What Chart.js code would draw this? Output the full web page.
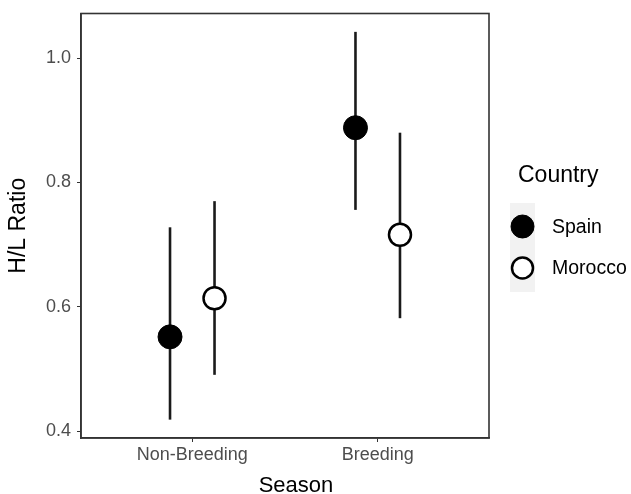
<!DOCTYPE html>
<html>
<head>
<meta charset="utf-8">
<script src="https://cdn.jsdelivr.net/npm/chart.js@4"></script>
<style>
  body { margin: 0; background: #fff; }
</style>
</head>
<body>
<canvas id="myChart" width="631" height="494"></canvas>
<script>
// data
const seasons = ["Non-Breeding", "Breeding"];
const countries = ["Spain", "Morocco"];
const spainMean = [0.552, 0.888];
const spainLow = [0.419, 0.756];
const spainHigh = [0.728, 1.042];
const moroccoMean = [0.614, 0.716];
const moroccoLow = [0.491, 0.582];
const moroccoHigh = [0.770, 0.880];
const yTicks = [0.4, 0.6, 0.8, 1.0];

const dodge = 0.12;
const FONT = "'Liberation Sans', Arial, sans-serif";

function points(means, off) {
  return means.map((m, i) => ({ x: i + 1 + off, y: m }));
}

// error bars + frame + legend + x title
const extras = {
  id: "extras",
  beforeDatasetsDraw(chart) {
    const ctx = chart.ctx;
    const xs = chart.scales.x, ys = chart.scales.y;
    const bars = [
      [spainLow, spainHigh, -dodge],
      [moroccoLow, moroccoHigh, dodge],
    ];
    ctx.save();
    ctx.strokeStyle = "#1a1a1a";
    ctx.lineWidth = 2.6;
    bars.forEach(([lo, hi, off]) => {
      lo.forEach((v, i) => {
        const px = xs.getPixelForValue(i + 1 + off);
        ctx.beginPath();
        ctx.moveTo(px, ys.getPixelForValue(v));
        ctx.lineTo(px, ys.getPixelForValue(hi[i]));
        ctx.stroke();
      });
    });
    ctx.restore();
  },
  afterDraw(chart) {
    const ctx = chart.ctx;
    const a = chart.chartArea;
    ctx.save();
    ctx.strokeStyle = "#333333";
    ctx.lineWidth = 1.6;
    ctx.strokeRect(a.left, a.top, a.right - a.left, a.bottom - a.top);

    // x axis title
    ctx.fillStyle = "#000";
    ctx.font = "22px " + FONT;
    ctx.textAlign = "center";
    ctx.textBaseline = "alphabetic";
    ctx.fillText("Season", 296, 492);

    // legend
    ctx.textAlign = "left";
    ctx.font = "23px " + FONT;
    ctx.fillText("Country", 518, 182);
    ctx.fillStyle = "#f2f2f2";
    ctx.fillRect(510, 203, 25, 89);
    const keys = [226.5, 268];
    chart.data.datasets.forEach((ds, i) => {
      ctx.beginPath();
      ctx.arc(522.5, keys[i], i === 0 ? 11.5 : 10.5, 0, Math.PI * 2);
      ctx.fillStyle = ds.pointBackgroundColor;
      ctx.fill();
      ctx.lineWidth = ds.pointBorderWidth;
      ctx.strokeStyle = ds.pointBorderColor;
      ctx.stroke();
      ctx.fillStyle = "#000";
      ctx.font = "19.5px " + FONT;
      ctx.textBaseline = "middle";
      ctx.fillText(ds.label, 552, keys[i] + 1);
    });
    ctx.restore();
  },
};

const ctx = document.getElementById("myChart").getContext("2d");
const chart = new Chart(ctx, {
  type: "scatter",
  data: {
    datasets: [
      {
        label: countries[0],
        data: points(spainMean, -dodge),
        pointRadius: 12,
        pointHoverRadius: 12,
        pointBackgroundColor: "#000000",
        pointBorderColor: "#000000",
        pointBorderWidth: 1,
      },
      {
        label: countries[1],
        data: points(moroccoMean, dodge),
        pointRadius: 11,
        pointHoverRadius: 11,
        pointBackgroundColor: "#ffffff",
        pointBorderColor: "#000000",
        pointBorderWidth: 2.5,
      },
    ],
  },
  options: {
    responsive: false,
    animation: false,
    events: [],
    layout: { padding: { top: 12, right: 142, left: 0, bottom: 0 } },
    plugins: { legend: { display: false }, tooltip: { enabled: false } },
    scales: {
      x: {
        type: "linear",
        min: 0.4,
        max: 2.6,
        afterBuildTicks: (s) => { s.ticks = seasons.map((c, i) => ({ value: i + 1 })); },
        afterFit: (s) => { s.height = 56; s.paddingLeft = 0; s.paddingRight = 0; },
        ticks: {
          callback: (v) => seasons[v - 1],
          color: "#4d4d4d",
          font: { family: FONT, size: 18 },
          padding: 2,
          maxRotation: 0,
        },
        grid: { drawOnChartArea: false, drawTicks: true, tickLength: 4, color: "#333333" },
        border: { display: true, color: "#333333", width: 1.6 },
      },
      y: {
        type: "linear",
        min: 0.3895,
        max: 1.0715,
        afterBuildTicks: (s) => { s.ticks = yTicks.map((v) => ({ value: v })); },
        afterFit: (s) => { s.width = 81; s.paddingTop = 0; s.paddingBottom = 0; },
        ticks: {
          callback: (v) => v.toFixed(1),
          color: "#4d4d4d",
          font: { family: FONT, size: 18 },
          padding: 6,
        },
        title: {
          display: true,
          text: "H/L Ratio",
          color: "#000",
          font: { family: FONT, size: 23 },
          padding: { top: 5, bottom: 0 },
        },
        grid: { drawOnChartArea: false, drawTicks: true, tickLength: 4, color: "#333333" },
        border: { display: true, color: "#333333", width: 1.6 },
      },
    },
  },
  plugins: [extras],
});
</script>
</body>
</html>
